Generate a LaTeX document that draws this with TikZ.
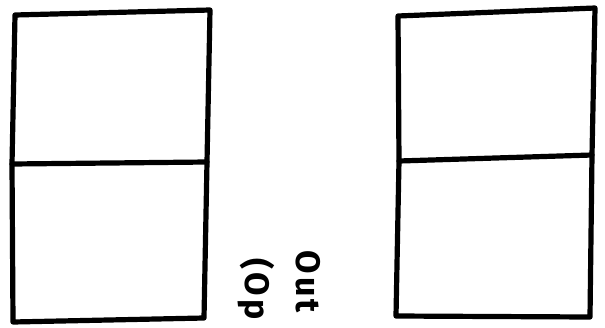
\documentclass[tikz,border=0pt]{standalone}
\usepackage{fontspec}
\setmainfont{Fira Sans}
\newfontfamily\handfont[LetterSpace=10]{Fira Sans}
\newcommand{\handtext}[1]{{\handfont\bfseries\fontsize{34}{40}\selectfont #1}}
\begin{document}
\begin{tikzpicture}[x=1pt,y=-1pt,
  sketch/.style={line width=5.2pt, line cap=round, line join=round, black},
  hand/.style={rotate=-90, anchor=west, inner sep=0pt}]
\useasboundingbox (0,0) rectangle (605,327);
% left box
\coordinate (lTL) at (15,15);
\coordinate (lTR) at (210,10);
\coordinate (lML) at (12,164);
\coordinate (lMR) at (207,162);
\coordinate (lBL) at (13,322);
\coordinate (lBR) at (204,318);
\draw[sketch] (lTL) -- (lTR) -- (lMR) -- (lBR) -- (lBL) -- (lML) -- cycle;
\draw[sketch] (lML) -- (lMR);
% right box
\coordinate (rTL) at (398,16);
\coordinate (rTR) at (595,8);
\coordinate (rML) at (399,161);
\coordinate (rMR) at (592,155);
\coordinate (rBL) at (396,316);
\coordinate (rBR) at (590,317);
\draw[sketch] (rTL) -- (rTR) -- (rMR) -- (rBR) -- (rBL) -- (rML) -- cycle;
\draw[sketch] (rML) -- (rMR);
% rotated labels
\node[hand] (out) at (308,250) {\handtext{Out}};
\node[hand] (op) at (256,258) {\handtext{(Op}};
\end{tikzpicture}
\end{document}
